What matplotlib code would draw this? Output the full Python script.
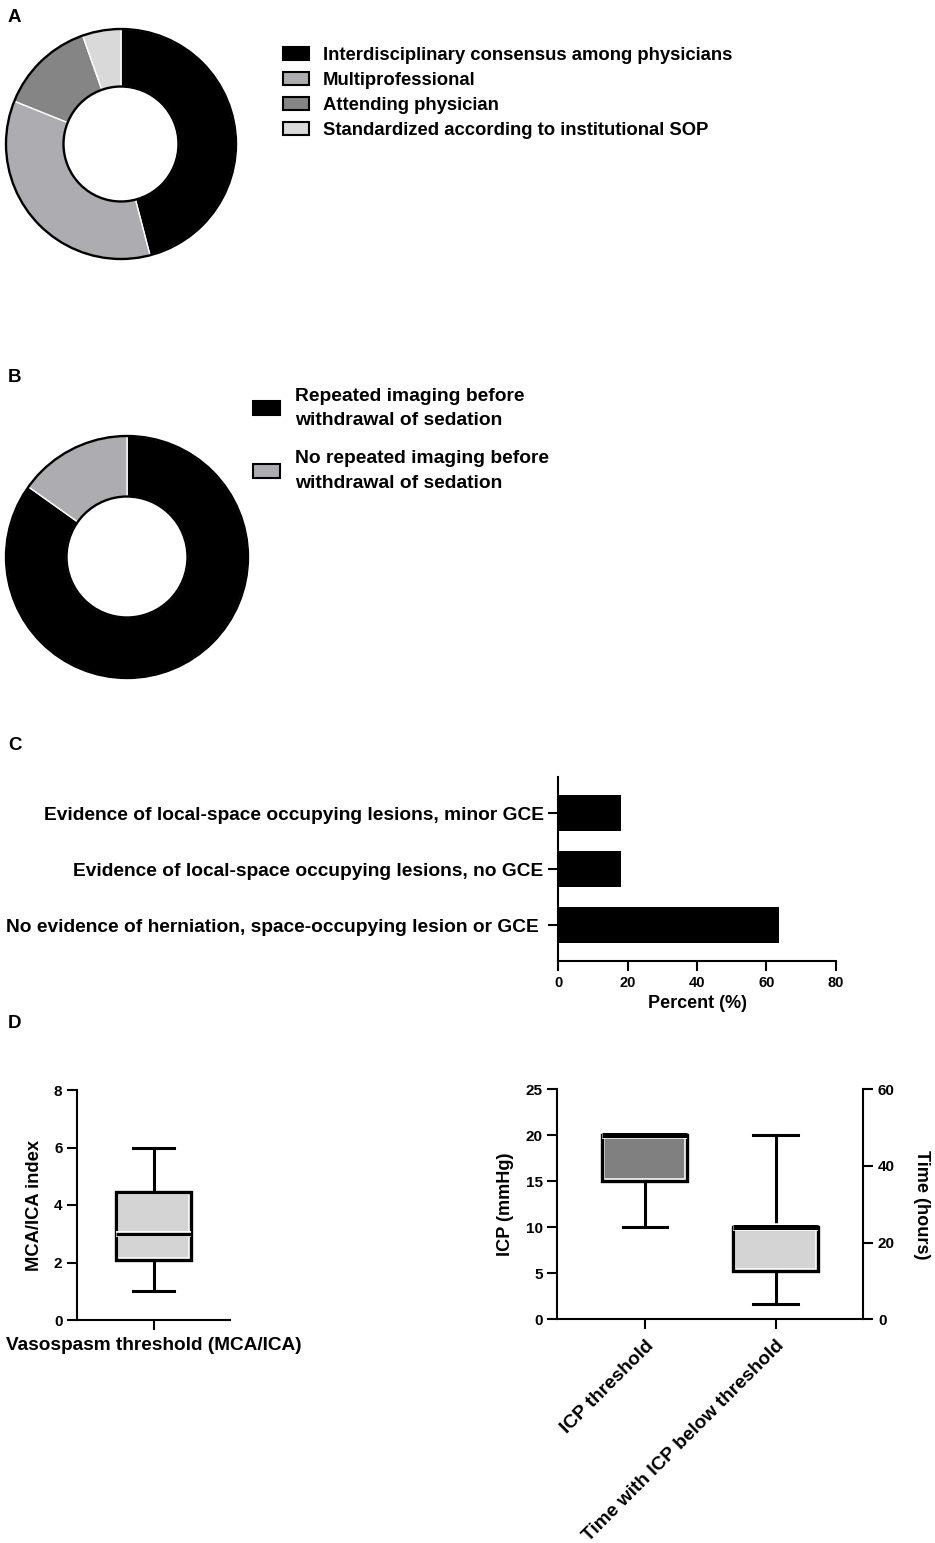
import matplotlib
matplotlib.use('Agg')
import matplotlib.pyplot as plt
from matplotlib.patches import Patch, Circle

plt.rcParams['font.family'] = ['Liberation Sans', 'DejaVu Sans']
plt.rcParams['font.weight'] = 'bold'
plt.rcParams['axes.labelweight'] = 'bold'

# ---------------- data ----------------
a_labels = ['Interdisciplinary consensus among physicians', 'Multiprofessional',
            'Attending physician', 'Standardized according to institutional SOP']
a_values = [17, 13, 5, 2]
a_colors = ['#000000', '#adadb1', '#858585', '#d9d9d9']

b_labels = ['Repeated imaging before\nwithdrawal of sedation',
            'No repeated imaging before\nwithdrawal of sedation']
b_values = [28, 5]
b_colors = ['#000000', '#adadb1']

c_labels = ['No evidence of herniation, space-occupying lesion or GCE ',
            'Evidence of local-space occupying lesions, no GCE',
            'Evidence of local-space occupying lesions, minor GCE']
c_values = [63.6, 18.2, 18.2]
c_ticks = [0, 20, 40, 60, 80]

vaso_label = 'Vasospasm threshold (MCA/ICA)'
vaso_stats = dict(whislo=1.0, q1=2.1, med=3.0, q3=4.45, whishi=6.0)
icp_stats = dict(whislo=10, q1=15, med=20, q3=20, whishi=20)
time_stats = dict(whislo=4, q1=12.5, med=24, q3=24, whishi=48)
d_labels = ['ICP threshold', 'Time with ICP below threshold']
vaso_ticks = [0, 2, 4, 6, 8]
icp_ticks = [0, 5, 10, 15, 20, 25]
time_ticks = [0, 20, 40, 60]

box_light = '#d4d4d4'
box_dark = '#808080'

# ---------------- figure ----------------
W, H = 935, 1543
fig = plt.figure(figsize=(W / 100, H / 100), dpi=100)


def px_axes(x0, y0, x1, y1):
    return fig.add_axes([x0 / W, 1 - y1 / H, (x1 - x0) / W, (y1 - y0) / H])


def donut(ax, values, colors):
    ax.pie(values, colors=colors, startangle=90, counterclock=False, radius=1,
           wedgeprops=dict(width=0.5, edgecolor='white', linewidth=1.0))
    ax.add_patch(Circle((0, 0), 1.0, fill=False, ec='black', lw=1.7, clip_on=False))
    ax.add_patch(Circle((0, 0), 0.5, fill=False, ec='black', lw=1.7, clip_on=False))
    ax.set_xlim(-1, 1)
    ax.set_ylim(-1, 1)
    ax.set_aspect('equal')
    ax.axis('off')


# Panel A
axA = px_axes(121 - 115, 144 - 115, 121 + 115, 144 + 115)
donut(axA, a_values, a_colors)
handlesA = [Patch(facecolor=c, edgecolor='black', linewidth=1.5) for c in a_colors]
legA = fig.legend(handlesA, a_labels, loc='upper left', bbox_to_anchor=(283 / W, 1 - 46.5 / H),
                  frameon=False, fontsize=13.3, handlelength=1.4, handleheight=0.7,
                  handletextpad=0.74, labelspacing=0.44, borderpad=0, borderaxespad=0)

# Panel B
axB = px_axes(127 - 121, 557 - 121, 127 + 121, 557 + 121)
donut(axB, b_values, b_colors)
handlesB = [Patch(facecolor=c, edgecolor='black', linewidth=1.5) for c in b_colors]
legB = fig.legend(handlesB, b_labels, loc='upper left', bbox_to_anchor=(253 / W, 1 - 388 / H),
                  frameon=False, fontsize=13.9, handlelength=1.4, handleheight=0.72,
                  handletextpad=0.78, labelspacing=1.1, borderpad=0, borderaxespad=0)
for t in legB.get_texts():
    t.set_linespacing(1.55)

# Panel C
axC = px_axes(558.3, 776.7, 835.7, 961)
ypos = list(range(len(c_values)))
axC.barh(ypos, c_values, height=0.65, color='black')
axC.set_yticks(ypos)
axC.set_yticklabels(c_labels, fontsize=13.8)
axC.set_xticks(c_ticks)
axC.set_xlim(0, 80)
axC.set_ylim(-0.64, 2.65)
axC.set_xlabel('Percent (%)', fontsize=13, labelpad=4)
for s in ['top', 'right']:
    axC.spines[s].set_visible(False)
for s in ['left', 'bottom']:
    axC.spines[s].set_linewidth(1.5)
axC.tick_params(axis='both', direction='out', length=7, width=1.5)
axC.tick_params(axis='x', labelsize=10.5)
axC.tick_params(axis='y', pad=3.5)


def draw_box(ax, stats, pos, width, capw, fill, med_lw):
    st = dict(stats)
    st['fliers'] = []
    ax.bxp([st], positions=[pos], widths=width, patch_artist=True, showfliers=False,
           showcaps=False,
           boxprops=dict(facecolor=fill, edgecolor='white', linewidth=4.0),
           whiskerprops=dict(linestyle='none'),
           medianprops=dict(color='white', linewidth=med_lw + 1.8, solid_capstyle='butt'),
           manage_ticks=False)
    ax.bxp([st], positions=[pos], widths=width, patch_artist=True, showfliers=False,
           capwidths=capw,
           boxprops=dict(facecolor='none', edgecolor='black', linewidth=2.4),
           whiskerprops=dict(color='black', linewidth=2.2),
           capprops=dict(color='black', linewidth=2.2),
           medianprops=dict(color='black', linewidth=med_lw, solid_capstyle='butt'),
           manage_ticks=False)


# Panel D left
axD1 = px_axes(77, 1090, 230, 1320)
draw_box(axD1, vaso_stats, 0, 0.98, 0.54, box_light, 2.4)
axD1.set_xlim(-1, 1)
axD1.set_ylim(0, 8)
axD1.set_yticks(vaso_ticks)
axD1.set_xticks([0])
axD1.set_xticklabels([vaso_label], fontsize=13.7)
axD1.set_ylabel('MCA/ICA index', fontsize=13.2, va='center')
axD1.yaxis.set_label_coords(-0.275, 0.5)
for s in ['top', 'right']:
    axD1.spines[s].set_visible(False)
for s in ['left', 'bottom']:
    axD1.spines[s].set_linewidth(1.5)
axD1.tick_params(axis='both', direction='out', length=7, width=1.5)
axD1.tick_params(axis='x', pad=5)
axD1.tick_params(axis='y', labelsize=11)

# Panel D right
axD2 = px_axes(557.3, 1089.3, 863.3, 1319.3)
axD3 = axD2.twinx()
draw_box(axD2, icp_stats, 0, 0.65, 0.34, box_dark, 3.6)
draw_box(axD3, time_stats, 1, 0.65, 0.34, box_light, 3.6)
axD2.set_xlim(-0.67, 1.67)
axD2.set_ylim(0, 25)
axD3.set_ylim(0, 60)
axD2.set_yticks(icp_ticks)
axD3.set_yticks(time_ticks)
axD2.set_xticks([0, 1])
axD2.set_xticklabels(d_labels, fontsize=13.8, rotation=45, ha='right', rotation_mode='anchor')
axD2.set_ylabel('ICP (mmHg)', fontsize=13.1, va='center')
axD2.yaxis.set_label_coords(-0.168, 0.5)
axD3.set_ylabel('Time (hours)', fontsize=13.1, rotation=270, va='center', ha='center')
axD3.yaxis.set_label_coords(1.19, 0.5)
for s in ['top', 'right']:
    axD2.spines[s].set_visible(False)
for s in ['top', 'left', 'bottom']:
    axD3.spines[s].set_visible(False)
axD2.spines['left'].set_linewidth(1.5)
axD2.spines['bottom'].set_linewidth(1.5)
axD3.spines['right'].set_linewidth(1.5)
for a in (axD2, axD3):
    a.tick_params(axis='both', direction='out', length=7, width=1.5)
    a.tick_params(axis='y', labelsize=11)
axD2.tick_params(axis='x', pad=6)

# Panel letters
for letter, y in [('A', 18), ('B', 378), ('C', 745), ('D', 1024)]:
    fig.text(8 / W, 1 - y / H, letter, fontsize=13.5, fontweight='bold', va='center', ha='left')

fig.savefig('out.png', dpi=100)
